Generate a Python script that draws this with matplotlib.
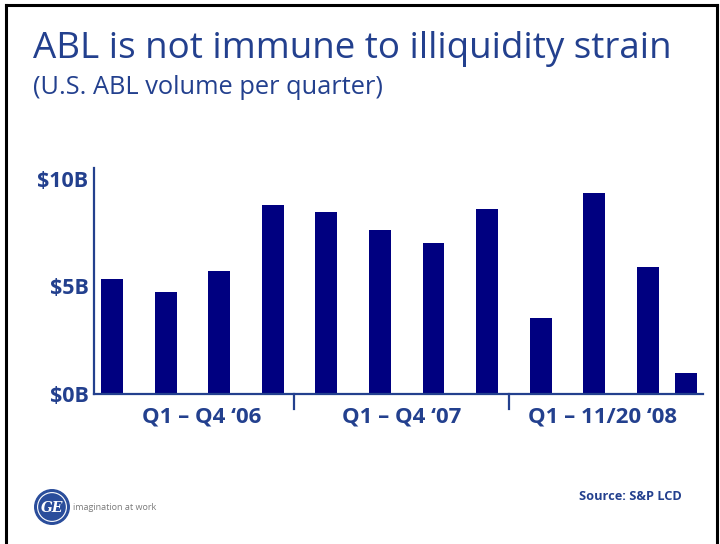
import matplotlib
matplotlib.use("Agg")
import matplotlib.pyplot as plt
import numpy as np
from matplotlib.patches import Circle

# U.S. ABL volume per quarter, $B
quarters = ["Q1 '06", "Q2 '06", "Q3 '06", "Q4 '06",
            "Q1 '07", "Q2 '07", "Q3 '07", "Q4 '07",
            "Q1 '08", "Q2 '08", "Q3 '08", "Q4 '08 (to 11/20)"]
volume = [5.35, 4.75, 5.7, 8.8, 8.45, 7.6, 7.0, 8.6, 3.55, 9.35, 5.9, 0.98]
group_labels = ["Q1 \u2013 Q4 \u201806", "Q1 \u2013 Q4 \u201807", "Q1 \u2013 11/20 \u201808"]
ytick_vals = [0, 5, 10]
ytick_labels = ["$0B", "$5B", "$10B"]

BLUE = "#23408e"
NAVY = "#000080"
W, H = 720, 544

plt.rcParams["font.family"] = ["Open Sans", "DejaVu Sans"]

fig = plt.figure(figsize=(W / 100, H / 100), dpi=100)

# slide border (left, top, right)
fig.add_artist(plt.Line2D([6 / W, 6 / W], [0, 1 - 5 / H], transform=fig.transFigure, color="black", lw=2.2))
fig.add_artist(plt.Line2D([6 / W, 717 / W], [1 - 5 / H, 1 - 5 / H], transform=fig.transFigure, color="black", lw=2.2))
fig.add_artist(plt.Line2D([717 / W, 717 / W], [0, 1 - 5 / H], transform=fig.transFigure, color="black", lw=2.2))

fig.text(33 / W, 1 - 49 / H, "ABL is not immune to illiquidity strain", color=BLUE,
         fontsize=26.5, fontweight="medium", va="center", ha="left")
fig.text(33 / W, 1 - 88 / H, "(U.S. ABL volume per quarter)", color=BLUE,
         fontsize=18.3, fontweight="medium", va="center", ha="left")

ax = fig.add_axes([94 / W, 150 / H, (703 - 94) / W, 226 / H])
x = np.arange(len(volume), dtype=float)
x[-1] -= 0.29  # partial quarter sits closer to the previous bar
ax.bar(x, volume, width=0.41, color=NAVY)
ax.set_xlim(-0.336, 11.03)
ax.set_ylim(0, 10.5)

for side in ["top", "right"]:
    ax.spines[side].set_visible(False)
for side in ["left", "bottom"]:
    ax.spines[side].set_color(BLUE)
    ax.spines[side].set_linewidth(1.6)

ax.set_xticks([])
ax.set_yticks(ytick_vals)
ax.set_yticklabels(ytick_labels, fontsize=15.5, fontweight="bold", color=BLUE)
ax.tick_params(axis="y", length=0, pad=4)

# group separators below the axis
for sep in [3.4, 7.4]:
    ax.plot([sep, sep], [0, -0.68], color=BLUE, lw=1.6, clip_on=False)

group_centers = [1.68, 5.4, 9.15]
for cx, lab in zip(group_centers, group_labels):
    ax.text(cx, -1.07, lab, ha="center", va="center", fontsize=16,
            fontweight="bold", color=BLUE, clip_on=False)

# footer: logo and source
logo_ax = fig.add_axes([34 / W, 1 - 525 / H, 36 / W, 36 / H])
logo_ax.add_patch(Circle((0.5, 0.5), 0.48, color="#2a4d9b"))
logo_ax.add_patch(Circle((0.5, 0.5), 0.40, fill=False, ec="white", lw=0.8))
logo_ax.text(0.5, 0.48, "GE", color="white", fontsize=10, style="italic",
             fontweight="bold", ha="center", va="center", family="DejaVu Serif")
logo_ax.set_xlim(0, 1)
logo_ax.set_ylim(0, 1)
logo_ax.set_aspect("equal")
logo_ax.axis("off")
fig.text(73 / W, 1 - 507 / H, "imagination at work", color="#7a7a7a", fontsize=6.5,
         va="center", ha="left")
fig.text(682 / W, 1 - 497 / H, "Source: S&P LCD", color=BLUE, fontsize=9.2,
         fontweight="bold", va="center", ha="right")

fig.savefig("out.png", dpi=100)
